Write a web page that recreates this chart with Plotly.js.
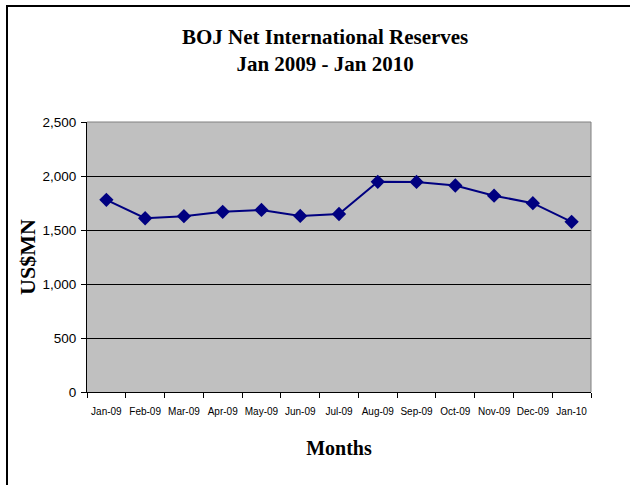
<!DOCTYPE html>
<html>
<head>
<meta charset="utf-8">
<script src="https://cdn.plot.ly/plotly-3.0.1.min.js"></script>
<style>
  html, body { margin: 0; padding: 0; background: #ffffff; overflow: hidden; }
  #frame { position: absolute; left: 6px; top: 5px; width: 700px; height: 600px;
           border-left: 2px solid #000; border-top: 2px solid #000; }
  #chart { position: absolute; left: 0; top: 0; width: 630px; height: 485px; }
</style>
</head>
<body>
<div id="frame"></div>
<div id="chart"></div>
<script>
const months = ["Jan-09","Feb-09","Mar-09","Apr-09","May-09","Jun-09","Jul-09",
                "Aug-09","Sep-09","Oct-09","Nov-09","Dec-09","Jan-10"];
const reserves = [1779, 1609, 1628, 1668, 1686, 1630, 1648, 1946, 1945, 1912, 1818, 1748, 1576];
const yTicks = [0, 500, 1000, 1500, 2000, 2500];

const trace = {
  x: months,
  y: reserves,
  type: "scatter",
  mode: "lines+markers",
  line: { color: "#000080", width: 2 },
  marker: { symbol: "diamond", size: 11, color: "#000080" },
  hoverinfo: "x+y"
};

const layout = {
  width: 630,
  height: 485,
  margin: { l: 87, r: 39, t: 122, b: 93 },
  paper_bgcolor: "rgba(0,0,0,0)",
  plot_bgcolor: "#C0C0C0",
  showlegend: false,
  title: {
    text: "<b>BOJ Net International Reserves<br>Jan 2009 - Jan 2010</b>",
    font: { family: "Liberation Serif, Times New Roman, serif", size: 21, color: "#000" },
    xref: "container", x: 0.516, xanchor: "center",
    yref: "container", y: 0.91, yanchor: "top"
  },
  xaxis: {
    type: "category",
    range: [-0.5, months.length - 0.5],
    tickson: "boundaries",
    ticks: "outside",
    ticklen: 5,
    tickcolor: "#000",
    showline: true,
    linecolor: "#000",
    linewidth: 1,
    showgrid: false,
    mirror: false,
    ticklabelstandoff: 10,
    tickfont: { family: "Liberation Sans, Arial, sans-serif", size: 10, color: "#000" },
    tickangle: 0,
    title: {
      text: "<b>Months</b>",
      font: { family: "Liberation Serif, Times New Roman, serif", size: 20, color: "#000" },
      standoff: 24
    }
  },
  yaxis: {
    range: [0, 2500],
    tickvals: yTicks,
    tickformat: ",",
    ticks: "outside",
    ticklen: 5,
    tickcolor: "#000",
    showline: true,
    linecolor: "#000",
    linewidth: 1,
    showgrid: true,
    gridcolor: "#000",
    gridwidth: 1,
    zeroline: false,
    ticklabelstandoff: 2,
    tickfont: { family: "Liberation Sans, Arial, sans-serif", size: 13.5, color: "#000" },
    title: {
      text: "<b>US$MN</b>",
      font: { family: "Liberation Serif, Times New Roman, serif", size: 22, color: "#000" },
      standoff: 0
    }
  },
  shapes: [
    { type: "line", xref: "paper", yref: "paper", x0: 1, x1: 1, y0: 0, y1: 1,
      line: { color: "#808080", width: 1 } },
    { type: "line", xref: "paper", yref: "paper", x0: 0, x1: 1, y0: 1, y1: 1,
      line: { color: "#808080", width: 1 } }
  ]
};

Plotly.newPlot("chart", [trace], layout, { displayModeBar: false, staticPlot: true });
</script>
</body>
</html>
